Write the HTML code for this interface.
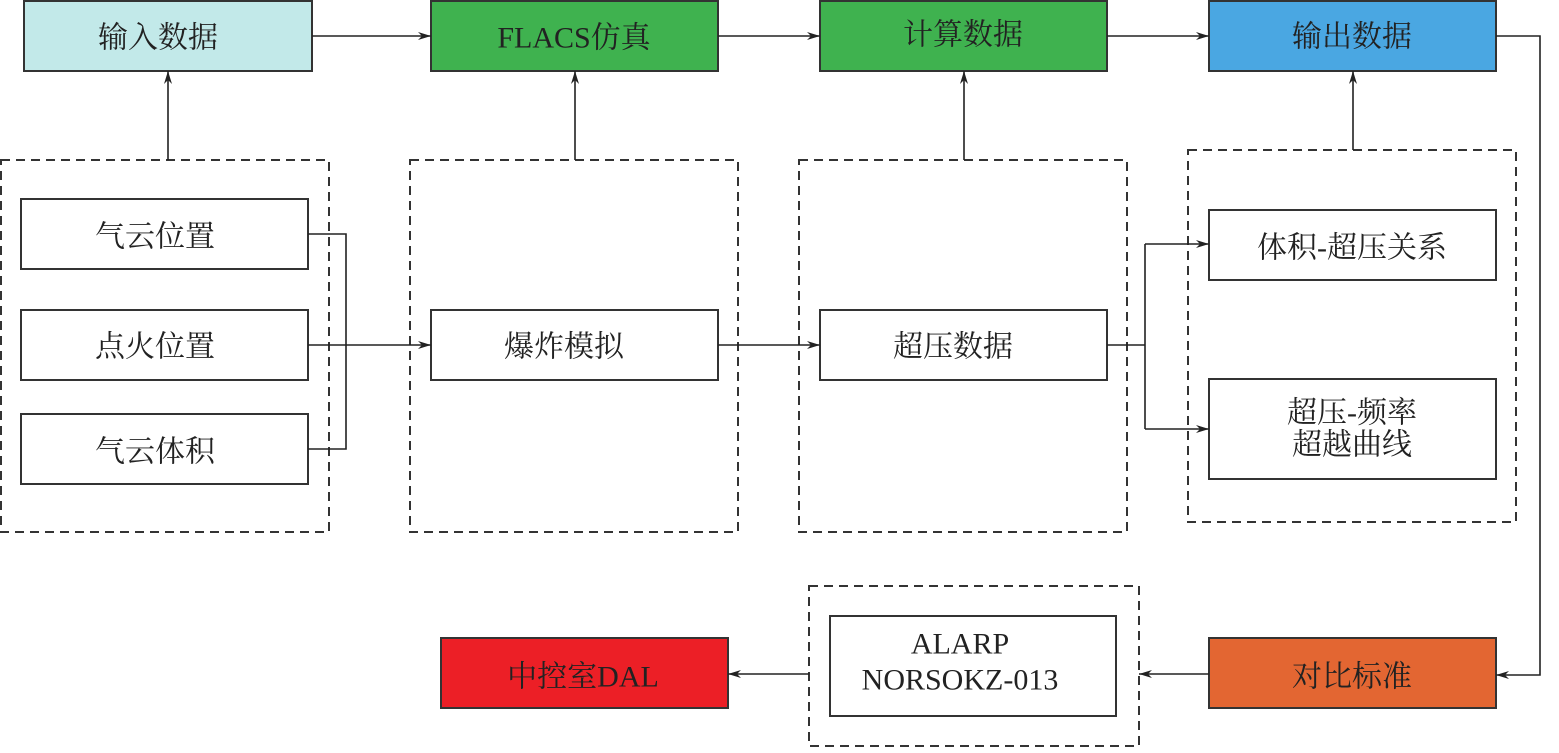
<!DOCTYPE html>
<html><head><meta charset="utf-8"><style>
body{margin:0;background:#fff;width:1559px;height:748px;overflow:hidden}
svg text{font-family:"Liberation Serif","Noto Serif CJK SC",serif;font-size:30px;fill:#222;text-anchor:middle;dominant-baseline:central}
</style></head><body>
<svg width="1559" height="748" viewBox="0 0 1559 748" xmlns="http://www.w3.org/2000/svg">
<defs><marker id="a" markerWidth="14" markerHeight="10" refX="13" refY="5" orient="auto" markerUnits="userSpaceOnUse"><path d="M0,1 L13,5 L0,9 L4,5 Z" fill="#222"/></marker></defs>
<g stroke="#333" stroke-width="2" fill="none" stroke-dasharray="9,6">
<rect x="1" y="160" width="328" height="372"/>
<rect x="410" y="160" width="328" height="372"/>
<rect x="799" y="160" width="328" height="372"/>
<rect x="1188" y="150" width="328" height="372"/>
<rect x="809" y="586" width="330" height="160"/>
</g>
<g stroke="#333" stroke-width="2">
<rect x="24" y="1" width="288" height="70" fill="#c2e9e9"/>
<rect x="431" y="1" width="287" height="70" fill="#3fb24f"/>
<rect x="820" y="1" width="287" height="70" fill="#3fb24f"/>
<rect x="1209" y="1" width="287" height="70" fill="#4aa7e2"/>
<rect x="1209" y="638" width="287" height="70" fill="#e36632"/>
<rect x="441" y="638" width="287" height="70" fill="#ec1f26"/>
<g fill="#fff">
<rect x="21" y="199" width="287" height="70"/>
<rect x="21" y="310" width="287" height="70"/>
<rect x="21" y="414" width="287" height="70"/>
<rect x="431" y="310" width="287" height="70"/>
<rect x="820" y="310" width="287" height="70"/>
<rect x="1209" y="210" width="287" height="70"/>
<rect x="1209" y="379" width="287" height="100"/>
<rect x="830" y="616" width="286" height="100"/>
</g>
</g>
<g stroke="#222" stroke-width="1.6" fill="none">
<path d="M312 36 H431" marker-end="url(#a)"/>
<path d="M718 36 H820" marker-end="url(#a)"/>
<path d="M1107 36 H1209" marker-end="url(#a)"/>
<path d="M168 160 V71" marker-end="url(#a)"/>
<path d="M575 160 V71" marker-end="url(#a)"/>
<path d="M964 160 V71" marker-end="url(#a)"/>
<path d="M1353 150 V71" marker-end="url(#a)"/>
<path d="M308 234 H346 V449 H308"/>
<path d="M308 345 H431" marker-end="url(#a)"/>
<path d="M718 345 H820" marker-end="url(#a)"/>
<path d="M1107 345 H1145"/>
<path d="M1145 244 V429"/>
<path d="M1145 244 H1209" marker-end="url(#a)"/>
<path d="M1145 429 H1209" marker-end="url(#a)"/>
<path d="M1496 36 H1540 V675 H1496" marker-end="url(#a)"/>
<path d="M1209 674 H1139" marker-end="url(#a)"/>
<path d="M809 674 H728" marker-end="url(#a)"/>
</g>
<text x="158" y="38">输入数据</text>
<text x="574" y="38">FLACS仿真</text>
<text x="963" y="35">计算数据</text>
<text x="1352" y="37">输出数据</text>
<text x="155" y="237">气云位置</text>
<text x="155" y="347">点火位置</text>
<text x="155" y="452">气云体积</text>
<text x="564" y="347">爆炸模拟</text>
<text x="953" y="347">超压数据</text>
<text x="1352" y="248">体积-超压关系</text>
<text x="1352" y="413">超压-频率</text>
<text x="1352" y="445">超越曲线</text>
<text x="1352" y="677">对比标准</text>
<text x="583" y="677">中控室DAL</text>
<text x="960" y="644">ALARP</text>
<text x="960" y="680">NORSOKZ-013</text>
</svg>
</body></html>
